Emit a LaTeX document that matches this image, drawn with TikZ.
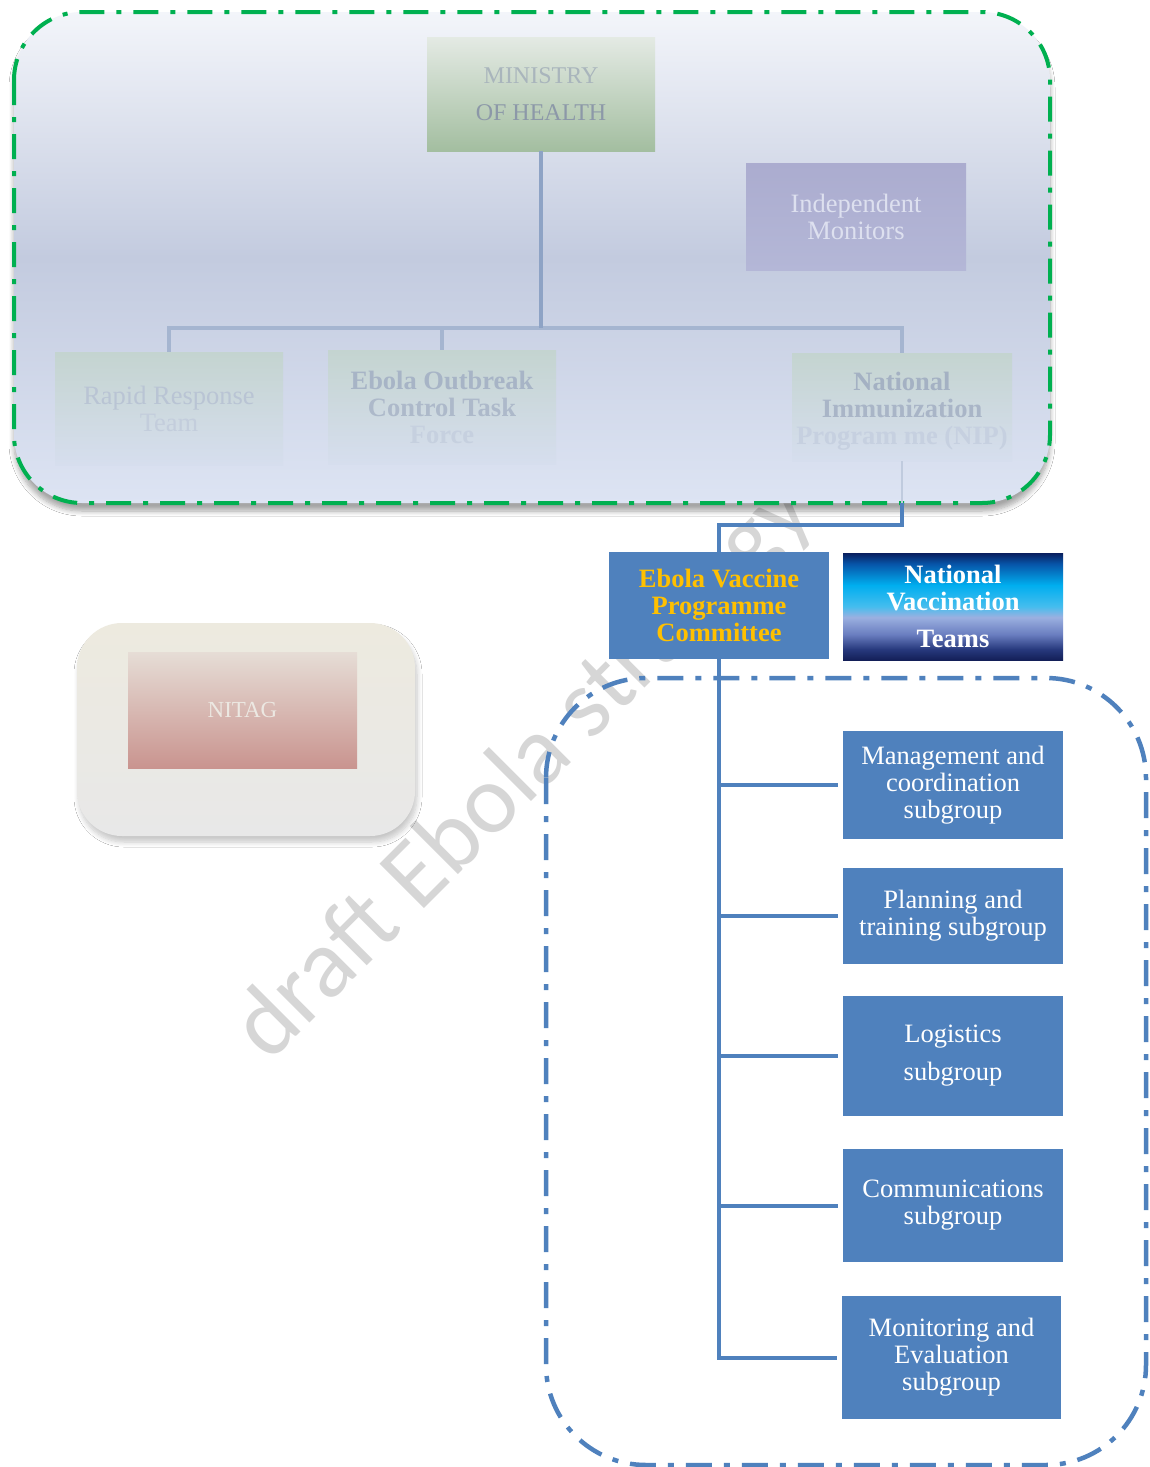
\documentclass[tikz,border=0pt]{standalone}
\usepackage{fontspec}
\setmainfont{Liberation Serif}
\newfontfamily\wmfont{Carlito}
\usetikzlibrary{shadows.blur}
\definecolor{evblue}{HTML}{4F81BD}
\definecolor{evgreen}{HTML}{00B050}
\definecolor{evyellow}{HTML}{FFC000}
\definecolor{gtop}{HTML}{F3F5FA}
\definecolor{gmid}{HTML}{C3CBDF}
\definecolor{gbot}{HTML}{DDE4F3}
\definecolor{mohtop}{HTML}{E4EAE4}
\definecolor{mohbot}{HTML}{A3BEA0}
\definecolor{indtop}{HTML}{ABACCF}
\definecolor{indbot}{HTML}{B4B7D7}
\definecolor{indtext}{HTML}{DDE0EF}
\definecolor{fadetop}{HTML}{C4D4D0}
\definecolor{fadebot}{HTML}{D6DEEE}
\definecolor{treeline}{HTML}{A5B5D0}
\definecolor{treedark}{HTML}{8EA3C5}
\definecolor{nvta}{HTML}{0A1F5E}
\definecolor{nvtb}{HTML}{0754A8}
\definecolor{nvtc}{HTML}{00AEEF}
\definecolor{nvtd}{HTML}{45BDEE}
\definecolor{nvte}{HTML}{9BB0E0}
\definecolor{nvtf}{HTML}{6A7EC0}
\definecolor{nvtg}{HTML}{27397D}
\definecolor{nvth}{HTML}{131F58}
\definecolor{nittop}{HTML}{EDEADF}
\definecolor{nitbot}{HTML}{E8E8E8}
\definecolor{nitin}{HTML}{E6DDD6}
\definecolor{nitinb}{HTML}{C9948F}
\definecolor{nittext}{HTML}{ECE8E2}
\definecolor{ta}{HTML}{A9B5BC}
\definecolor{tb}{HTML}{8C98A8}
\definecolor{tc}{HTML}{B9C4D4}
\definecolor{td}{HTML}{C3CDDC}
\definecolor{te}{HTML}{A7B4C6}
\definecolor{tf}{HTML}{ADB9CA}
\definecolor{tg}{HTML}{C6D0DF}
\definecolor{th}{HTML}{A4B1C3}
\definecolor{ti}{HTML}{A9B5C7}
\definecolor{tj}{HTML}{C6D0E0}
\pgfdeclareverticalshading{nvtshade}{100bp}{color(0bp)=(nvth); color(25bp)=(nvth); color(30bp)=(nvtg); color(37bp)=(nvtf); color(45bp)=(nvte); color(50bp)=(nvtd); color(60bp)=(nvtc); color(70bp)=(nvtb); color(75bp)=(nvta); color(100bp)=(nvta)}
\tikzset{
  box/.style={rectangle, inner sep=0pt, align=center, font=\fontsize{26.5}{27}\selectfont},
  boldbox/.style={box, font=\bfseries\fontsize{26.5}{27}\selectfont},
  subbox/.style={box, fill=evblue, text=white, minimum width=220pt},
  fadebox/.style={box, top color=fadetop, bottom color=fadebot, minimum width=228pt},
  treeconn/.style={draw=treeline, line width=3.5pt},
  evconn/.style={draw=evblue, line width=4pt},
  faintconn/.style={draw=treeline!70, line width=2pt},
}
\begin{document}
\begin{tikzpicture}[x=1pt, y=-1pt]
\fill[white] (0,0) rectangle (1149,1467);
\useasboundingbox (0,0) rectangle (1149,1467);

% watermark
\node[rotate=45, text=black!16, font=\wmfont\fontsize{98}{98}\selectfont] (wm) at (525,772) {draft Ebola strategy};

% top green region
\path[blur shadow={shadow xshift=0pt, shadow yshift=-8pt, shadow blur steps=8, shadow blur radius=5pt, shadow opacity=35},
      top color=gtop, bottom color=gbot, middle color=gmid, rounded corners=68pt]
  (14,12) rectangle (1050,503);
\draw[evgreen, line width=4pt, dash pattern=on 25pt off 12pt on 5pt off 12pt, rounded corners=68pt]
  (14,12) rectangle (1050,503);

\node[box, top color=mohtop, bottom color=mohbot, minimum width=228pt, minimum height=114pt, font=\fontsize{24}{27}\selectfont] (moh) at (541,94)
  {\textcolor{ta}{MINISTRY}\\[10pt]\textcolor{tb}{OF HEALTH}};
\node[box, top color=indtop, bottom color=indbot, minimum width=220pt, minimum height=107pt, text=indtext] (indep) at (856,216.5)
  {Independent\\Monitors};
\node[fadebox, minimum height=113pt] (rrt) at (169,408.5)
  {\textcolor{tc}{Rapid Response}\\\textcolor{td}{Team}};
\node[fadebox, boldbox, minimum height=114pt] (eoctf) at (442,407)
  {\textcolor{te}{Ebola Outbreak}\\\textcolor{tf}{Control Task}\\\textcolor{tg}{Force}};
\node[fadebox, boldbox, minimum width=220pt, minimum height=108pt] (nip) at (902,407)
  {\rule{0pt}{27pt}\textcolor{th}{National}\\\textcolor{ti}{Immunization}\\\textcolor{tj}{Program me (NIP)}};

\coordinate (bus) at (541,328);
\draw[treeconn] (rrt.north) -- (rrt.north |- bus) -- (nip.north |- bus) -- (nip.north);
\draw[treeconn] (eoctf.north) -- (eoctf.north |- bus);
\draw[draw=treedark, line width=3.5pt] (moh.south) -- (bus);

% committee and teams
\node[boldbox, fill=evblue, minimum width=220pt, minimum height=107pt, text=evyellow] (evpc) at (719,605.5)
  {Ebola Vaccine\\Programme\\Committee};
\node[boldbox, shading=nvtshade, minimum width=220pt, minimum height=107pt, text=white] (nvt) at (953,606.5)
  {National\\Vaccination\\[10pt]Teams};

\coordinate (j) at (902,503);
\draw[faintconn] (nip.south) -- (j);
\draw[evconn] (j) |- (719,525) -- (evpc.north);

% NITAG
\path[blur shadow={shadow xshift=2pt, shadow yshift=-6pt, shadow blur steps=8, shadow blur radius=5pt, shadow opacity=22},
      top color=nittop, bottom color=nitbot, rounded corners=45pt]
  (77,623) rectangle (415,836);
\node[box, top color=nitin, bottom color=nitinb, minimum width=229pt, minimum height=116pt, text=nittext, font=\fontsize{23}{26}\selectfont] (nitag) at (242.5,710) {NITAG};

% subgroup region
\draw[evblue, line width=4.5pt, dash pattern=on 26pt off 12pt on 6pt off 12pt, rounded corners=100pt]
  (546,678) rectangle (1146,1465);

\node[subbox, minimum height=108pt] (mgmt) at (953,785) {Management and\\coordination\\subgroup};
\node[subbox, minimum height=96pt] (plan) at (953,916) {Planning and\\training subgroup};
\node[subbox, minimum height=120pt] (logi) at (953,1056) {Logistics\\[11pt]subgroup};
\node[subbox, minimum height=113pt] (comm) at (953,1205.5) {Communications\\subgroup};
\node[subbox, minimum width=219pt, minimum height=123pt] (me) at (951.5,1357.5) {Monitoring and\\Evaluation\\subgroup};

\draw[evconn] ([yshift=5pt]evpc.south) |- ([xshift=-5pt]me.west);
\foreach \b in {mgmt,plan,logi,comm}
  \draw[evconn] (evpc.south |- \b.west) -- ([xshift=-5pt]\b.west);
\end{tikzpicture}
\end{document}
